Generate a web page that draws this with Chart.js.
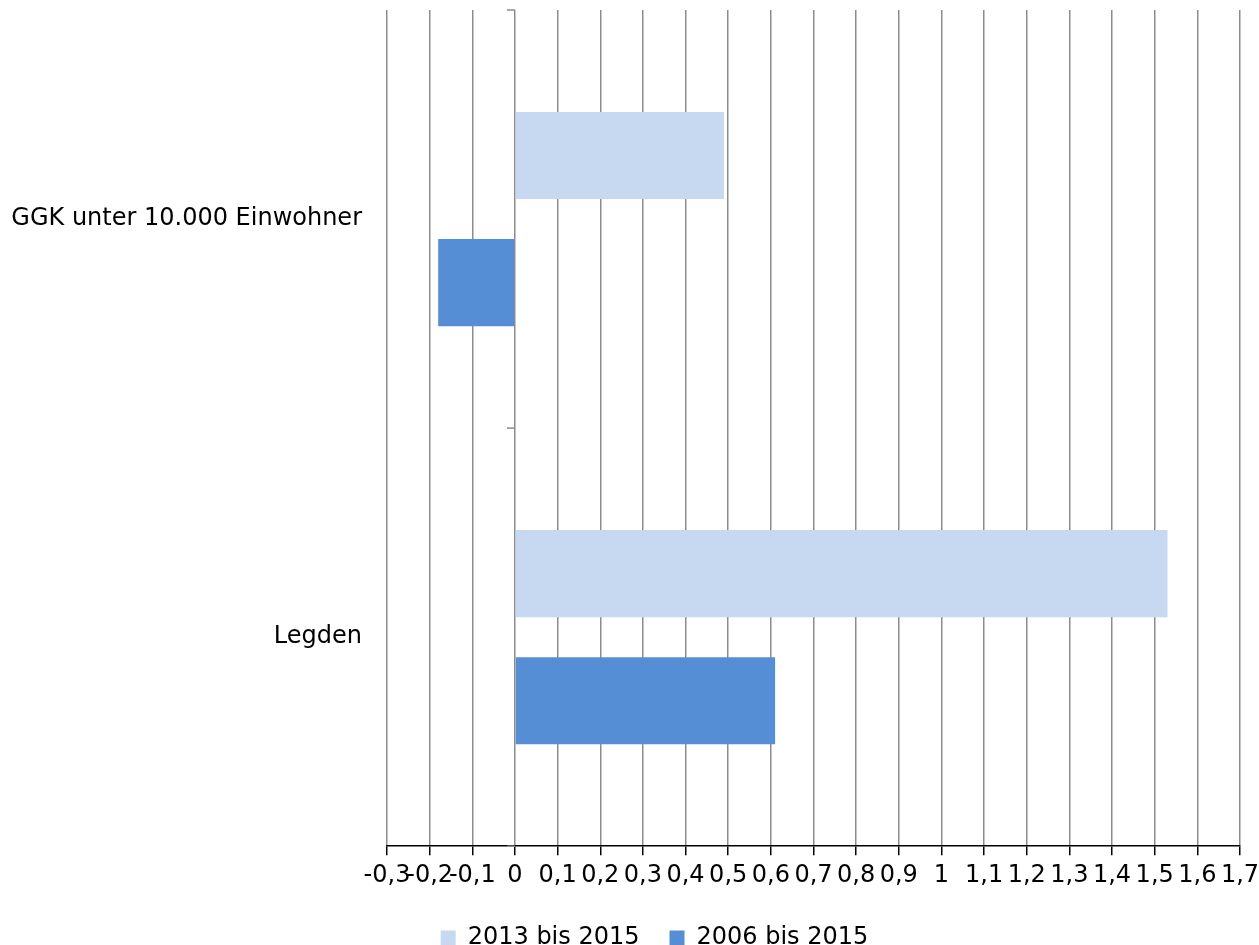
<!DOCTYPE html>
<html>
<head>
<meta charset="utf-8">
<script src="https://cdn.jsdelivr.net/npm/chart.js@4"></script>
<style>
  html, body { margin: 0; padding: 0; background: #fff; }
  #wrap { width: 1259px; height: 945px; }
</style>
</head>
<body>
<div id="wrap"><canvas id="chart"></canvas></div>
<script>
'use strict';

// data
var categories = ['GGK unter 10.000 Einwohner', 'Legden'];
var series2013 = [0.49, 1.53];
var series2006 = [-0.18, 0.61];
var seriesNames = ['2013 bis 2015', '2006 bis 2015'];

// little ticks on the category axis, which sits at x = 0
var zeroAxis = {
  id: 'zeroAxis',
  afterLayout: function(chart) {
    // legend sits a bit right of the canvas centre
    chart.legend.left += 25;
    chart.legend.right += 25;
  },
  afterDatasetsDraw: function(chart) {
    var x = chart.scales.x, y = chart.scales.y, ctx = chart.ctx;
    var x0 = x.getPixelForValue(0);
    var n = categories.length;
    ctx.save();
    ctx.strokeStyle = '#8c8c8c';
    ctx.lineWidth = 1.5;
    for (var i = 0; i <= n; i++) {
      var py = y.getPixelForValue(i - 0.5);
      ctx.beginPath();
      ctx.moveTo(x0 - 8, py);
      ctx.lineTo(x0, py);
      ctx.stroke();
    }
    ctx.restore();
  }
};

Chart.defaults.font.family = '"DejaVu Sans", sans-serif';
Chart.defaults.font.size = 24;
Chart.defaults.color = '#000';

new Chart(document.getElementById('chart'), {
  type: 'bar',
  data: {
    labels: categories,
    datasets: [{
      label: seriesNames[0],
      data: series2013,
      backgroundColor: '#c6d9f1',
      categoryPercentage: 0.608,
      barPercentage: 0.685
    }, {
      label: seriesNames[1],
      data: series2006,
      backgroundColor: '#558ed5',
      categoryPercentage: 0.608,
      barPercentage: 0.685
    }]
  },
  options: {
    indexAxis: 'y',
    responsive: true,
    maintainAspectRatio: false,
    animation: false,
    layout: { padding: { top: 10, right: 0, left: 0, bottom: -15 } },
    scales: {
      x: {
        min: -0.3,
        max: 1.7,
        afterFit: function(s) { s.paddingRight = 19; },
        ticks: {
          stepSize: 0.1,
          autoSkip: false,
          maxRotation: 0,
          padding: 6,
          callback: function(v) {
            var r = Math.round(v * 10) / 10;
            return String(r).replace('.', ',');
          }
        },
        grid: {
          color: '#8c8c8c',
          lineWidth: 1.5,
          tickColor: '#000',
          tickLength: 9
        },
        border: { color: '#000', width: 1.5 }
      },
      y: {
        afterFit: function(s) {
          s.width = 387;
          s.paddingTop = 0;
          s.paddingBottom = 0;
        },
        ticks: { padding: 0 },
        grid: {
          drawOnChartArea: false,
          drawTicks: true,
          tickLength: 25,
          tickColor: 'rgba(0,0,0,0)'
        },
        border: { display: false }
      }
    },
    plugins: {
      legend: {
        position: 'bottom',
        labels: { boxWidth: 15, boxHeight: 15, padding: 30 }
      },
      tooltip: { enabled: false }
    }
  },
  plugins: [zeroAxis]
});
</script>
</body>
</html>
